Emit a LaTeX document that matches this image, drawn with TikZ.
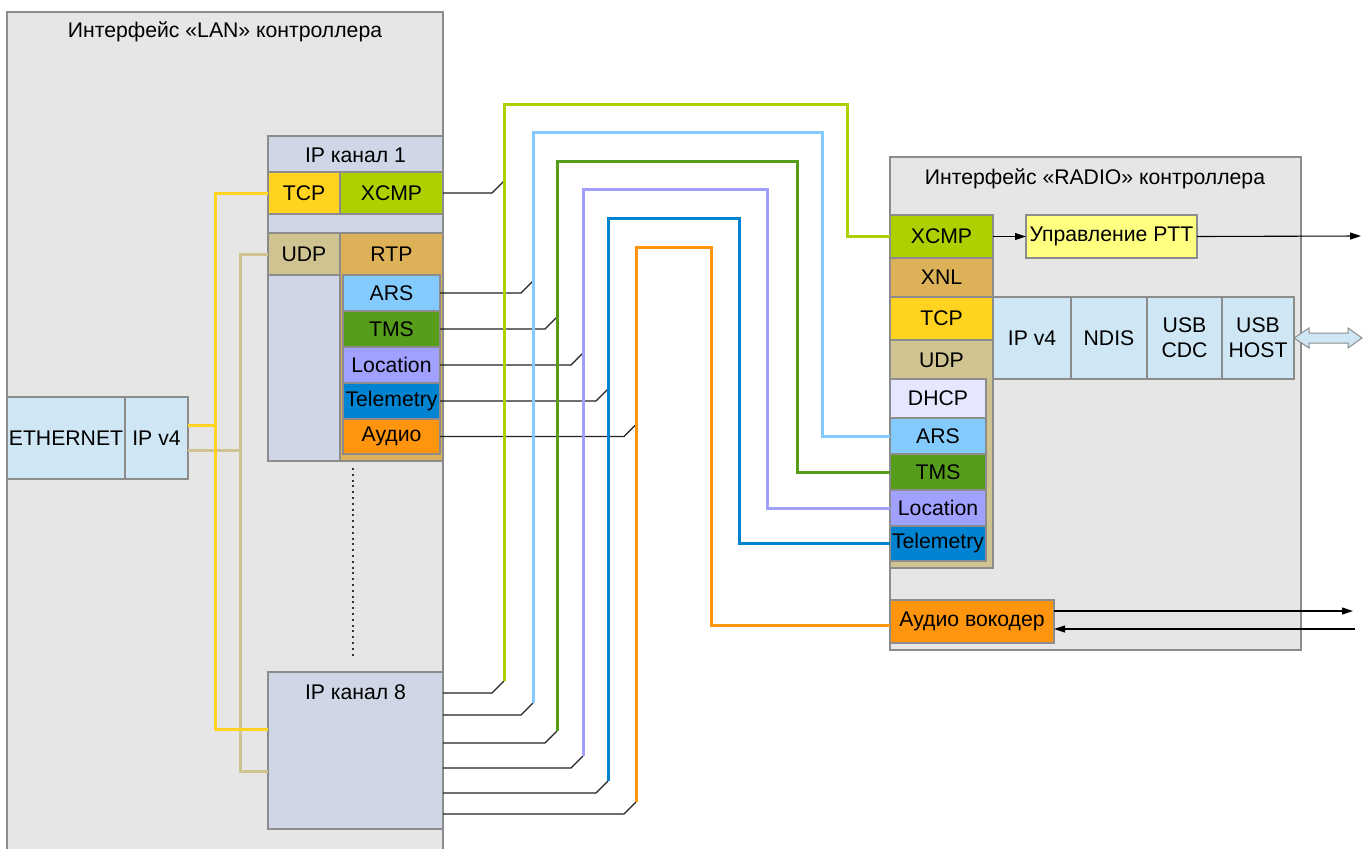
\documentclass[tikz,border=0pt]{standalone}
\usepackage{fontspec}
\setmainfont{Liberation Sans}
\usetikzlibrary{arrows.meta,calc}
\definecolor{boxbg}{HTML}{E6E6E6}
\definecolor{bordc}{HTML}{8C8C8C}
\definecolor{chc}{HTML}{CFD7E6}
\definecolor{tcpc}{HTML}{FFD320}
\definecolor{xcmpc}{HTML}{AECF00}
\definecolor{udpc}{HTML}{CFC391}
\definecolor{rtpc}{HTML}{DDB158}
\definecolor{arsc}{HTML}{83CAFF}
\definecolor{tmsc}{HTML}{579D1C}
\definecolor{locc}{HTML}{A0A0FF}
\definecolor{telc}{HTML}{0084D1}
\definecolor{audc}{HTML}{FF950E}
\definecolor{ipc}{HTML}{CFE7F5}
\definecolor{dhcpc}{HTML}{E6E6FF}
\definecolor{pttc}{HTML}{FFFF80}
\definecolor{linec}{HTML}{222222}
\begin{document}
\begin{tikzpicture}[x=1pt,y=-1pt,
  bx/.style={draw=bordc, line width=1.3pt, anchor=north west, inner sep=0pt, outer sep=0pt,
    font=\fontsize{21.2}{25}\selectfont, align=center},
  lbl/.style={inner sep=0pt, font=\fontsize{21.2}{25}\selectfont},
  thinln/.style={draw=linec, line width=1.2pt},
  colln/.style={draw=#1, line width=3pt},
  arr/.style={draw=black, line width=1.1pt, -{Triangle[length=11pt,width=7pt]}},
  dots/.style={draw=black!80, line width=1.6pt, dash pattern=on 2pt off 3.8pt}
]
\useasboundingbox (0,0) rectangle (1364,849);
\fill[white] (0,0) rectangle (1364,849);

% LAN controller
\fill[boxbg] (7,12) rectangle (443,849);
\draw[bordc, line width=1.3pt] (7,849) -- (7,12) -- (443,12) -- (443,849);
\node[lbl] (lanT) at (225,32) {Интерфейс «LAN» контроллера};

% RADIO controller
\node[bx, fill=boxbg, minimum width=411pt, minimum height=493pt] (radio) at (890,157) {};
\node[lbl] (radioT) at (1095,179) {Интерфейс «RADIO» контроллера};

% Ethernet
\node[bx, fill=ipc, minimum width=118pt, minimum height=82pt] (eth) at (7,397) {ETHERNET};
\node[bx, fill=ipc, minimum width=63pt, minimum height=82pt] (ipv4l) at (125,397) {IP v4};

% IP channel 1
\node[bx, fill=chc, minimum width=175pt, minimum height=325pt] (ch1) at (268,136) {};
\node[lbl] (ch1T) at (355.5,155) {IP канал 1};
\node[bx, fill=tcpc, minimum width=72pt, minimum height=42pt] (lTCP) at (268,172) {TCP};
\node[bx, fill=xcmpc, minimum width=103pt, minimum height=42pt] (lXCMP) at (340,172) {XCMP};
\node[bx, fill=udpc, minimum width=72pt, minimum height=42pt] (lUDP) at (268,233) {UDP};
\node[bx, fill=rtpc, minimum width=103pt, minimum height=228pt] (lRTP) at (340,233) {};
\node[lbl] (lRTPT) at (391.5,254) {RTP};
\node[bx, fill=arsc, minimum width=97pt, minimum height=36pt] (lARS) at (343,275) {ARS};
\node[bx, fill=tmsc, minimum width=97pt, minimum height=36pt] (lTMS) at (343,311) {TMS};
\node[bx, fill=locc, minimum width=97pt, minimum height=36pt] (lLoc) at (343,347) {Location};
\node[bx, fill=telc, minimum width=97pt, minimum height=36pt] (lTel) at (343,383) {Telemetry};
\node[bx, fill=audc, minimum width=97pt, minimum height=35pt] (lAud) at (343,419) {Аудио};

\draw[dots] (353,468) -- (353,656);

% IP channel 8
\node[bx, fill=chc, minimum width=175pt, minimum height=157pt] (ch8) at (268,672) {};
\node[lbl] (ch8T) at (355.5,692) {IP канал 8};

% yellow / tan links
\draw[colln=udpc] ($(ipv4l.east)+(0,12)$) -- (240,450);
\draw[colln=udpc] (lUDP.west) -| (240,771) -- ($(ch8.north west)+(0,99)$);
\draw[colln=tcpc] ($(ipv4l.east)+(0,-13)$) -- (215,425);
\draw[colln=tcpc] (lTCP.west) -| (215,729) -- ($(ch8.north west)+(0,57)$);

% RADIO stack
\node[bx, fill=xcmpc, minimum width=103pt, minimum height=43pt] (rXCMP) at (890,215) {XCMP};
\node[bx, fill=rtpc, minimum width=103pt, minimum height=39pt] (rXNL) at (890,258) {XNL};
\node[bx, fill=tcpc, minimum width=103pt, minimum height=43pt] (rTCP) at (890,297) {TCP};
\node[bx, fill=udpc, minimum width=103pt, minimum height=228pt] (rUDP) at (890,340) {};
\node[lbl] (rUDPT) at (941.5,360) {UDP};
\node[bx, fill=dhcpc, minimum width=96pt, minimum height=39pt] (rDHCP) at (890,379) {DHCP};
\node[bx, fill=arsc, minimum width=96pt, minimum height=36pt] (rARS) at (890,418) {ARS};
\node[bx, fill=tmsc, minimum width=96pt, minimum height=36pt] (rTMS) at (890,454) {TMS};
\node[bx, fill=locc, minimum width=96pt, minimum height=36pt] (rLoc) at (890,490) {Location};
\node[bx, fill=telc, minimum width=96pt, minimum height=35pt] (rTel) at (890,526) {Telemetry};

\node[bx, fill=ipc, minimum width=78pt, minimum height=82pt] (ripv4) at (993,297) {IP v4};
\node[bx, fill=ipc, minimum width=76pt, minimum height=82pt] (ndis) at (1071,297) {NDIS};
\node[bx, fill=ipc, minimum width=75pt, minimum height=82pt] (usbc) at (1147,297) {USB\\CDC};
\node[bx, fill=ipc, minimum width=72pt, minimum height=82pt] (usbh) at (1222,297) {USB\\HOST};

\node[bx, fill=pttc, minimum width=171pt, minimum height=43pt] (ptt) at (1026,215) {Управление PTT};
\node[bx, fill=audc, minimum width=164pt, minimum height=43pt] (voc) at (890,600) {Аудио вокодер};

% arrows on the right
\draw[arr] (rXCMP.east) -- (ptt.west);
\coordinate (pttEnd) at (1361,236);
\draw[arr] (ptt.east) -- (pttEnd);
\coordinate (vocOut) at (1353,611);
\coordinate (vocIn) at (1355,629);
\draw[arr] ($(voc.north east)+(0,11)$) -- (vocOut);
\draw[arr] (vocIn) -- ($(voc.north east)+(0,29)$);
\draw[draw=bordc, fill=ipc, line width=1pt] (usbh.east) -- ++(15,-10) -- ++(0,5) -- ++(39,0) -- ++(0,-5)
  -- ++(14,10) -- ++(-14,10) -- ++(0,-5) -- ++(-39,0) -- ++(0,5) -- cycle;

% black stubs
\draw[thinln] (lXCMP.east) -- (lXCMP.east -| 492,0) -- ++(12,-12) coordinate (a1);
\draw[thinln] (lARS.east) -- (lARS.east -| 521,0) -- ++(12,-12) coordinate (a2);
\draw[thinln] (lTMS.east) -- (lTMS.east -| 545,0) -- ++(12,-12) coordinate (a3);
\draw[thinln] (lLoc.east) -- (lLoc.east -| 571,0) -- ++(12,-12) coordinate (a4);
\draw[thinln] (lTel.east) -- (lTel.east -| 596,0) -- ++(12,-12) coordinate (a5);
\draw[thinln] (lAud.east) -- (lAud.east -| 624,0) -- ++(12,-12) coordinate (a6);

\draw[thinln] (ch8.east |- 0,693) -- (492,693) -- ++(12,-12) coordinate (b1);
\draw[thinln] (ch8.east |- 0,715) -- (521,715) -- ++(12,-12) coordinate (b2);
\draw[thinln] (ch8.east |- 0,743) -- (545,743) -- ++(12,-12) coordinate (b3);
\draw[thinln] (ch8.east |- 0,768) -- (571,768) -- ++(12,-12) coordinate (b4);
\draw[thinln] (ch8.east |- 0,793) -- (596,793) -- ++(12,-12) coordinate (b5);
\draw[thinln] (ch8.east |- 0,814) -- (624,814) -- ++(12,-12) coordinate (b6);

% coloured channels
\draw[colln=xcmpc] (b1) -- (a1) |- (847,104) |- (rXCMP.west);
\draw[colln=arsc] (b2) -- (a2) |- (822,132) |- (rARS.west);
\draw[colln=tmsc] (b3) -- (a3) |- (797,161) |- (rTMS.west);
\draw[colln=locc] (b4) -- (a4) |- (767,189) |- (rLoc.west);
\draw[colln=telc] (b5) -- (a5) |- (739,218) |- (rTel.west);
\draw[colln=audc] (b6) -- (a6) |- (711,247) |- ($(voc.west)+(0,4)$);
\end{tikzpicture}
\end{document}
